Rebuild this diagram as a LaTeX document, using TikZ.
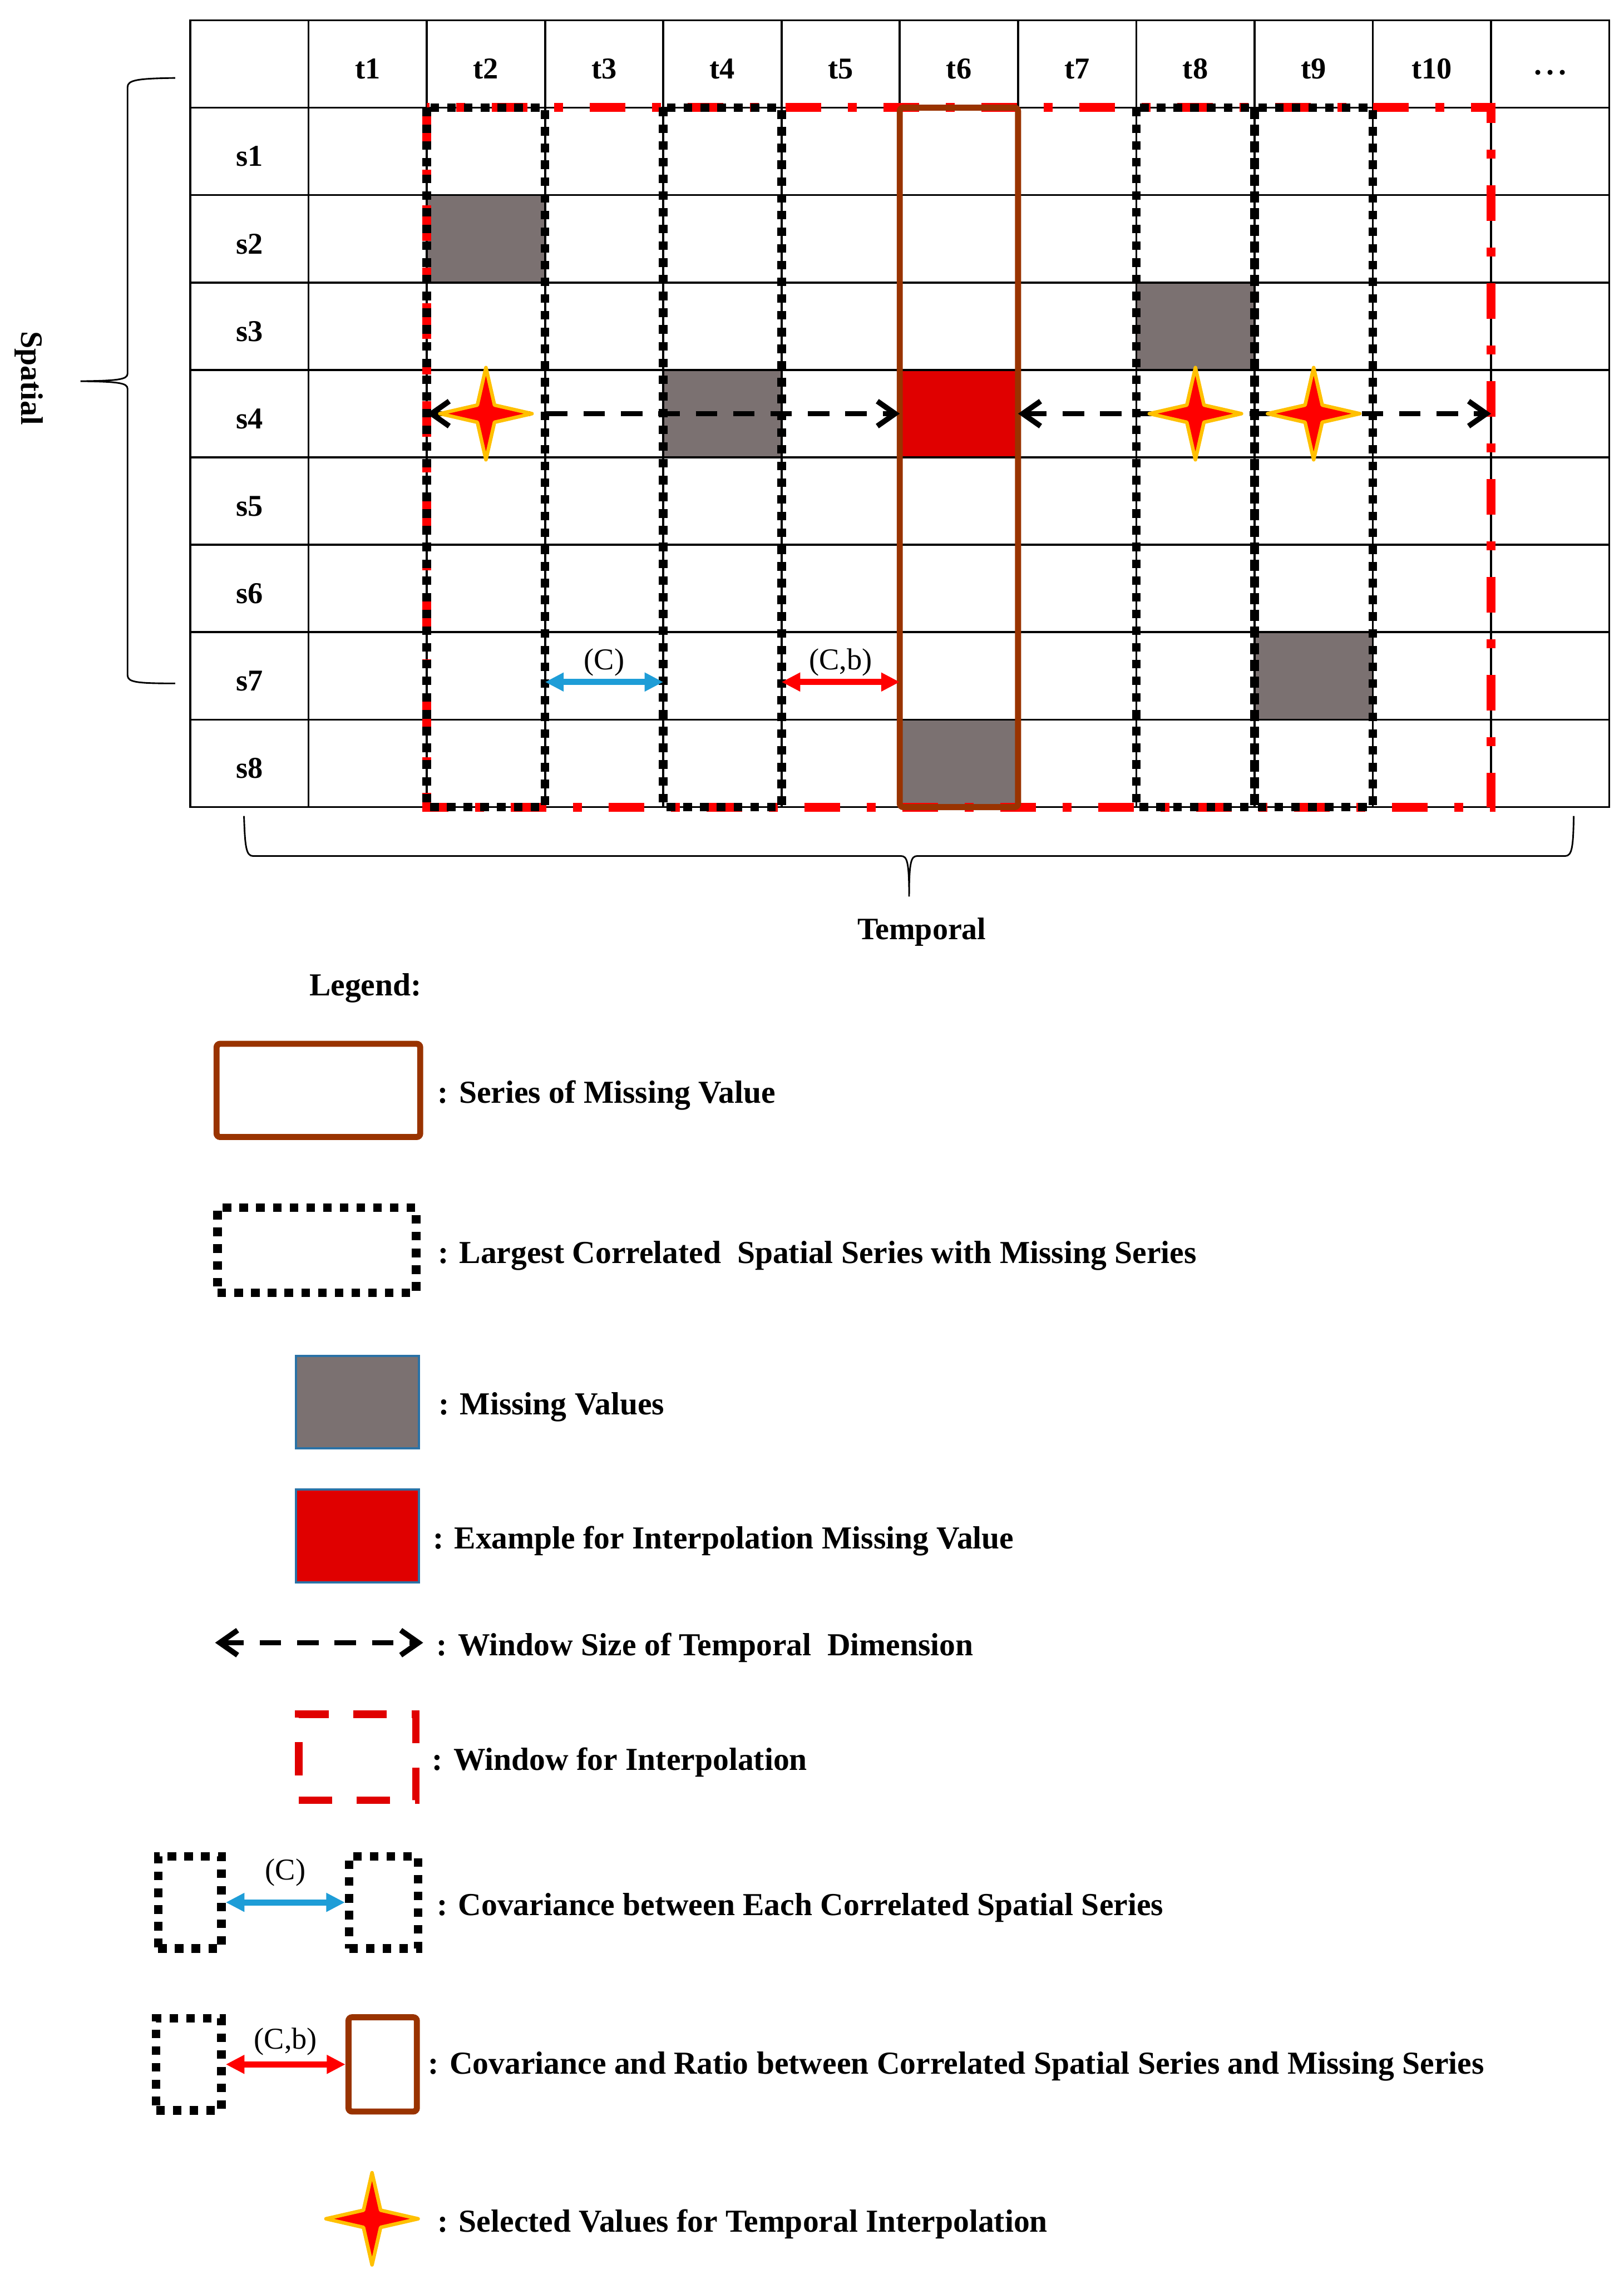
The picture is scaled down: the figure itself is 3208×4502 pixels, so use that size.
\documentclass[tikz,border=0pt]{standalone}
\usepackage{fontspec}
\setmainfont{Liberation Serif}
\usetikzlibrary{positioning,arrows.meta,shapes.geometric}

\definecolor{missgray}{RGB}{123,113,113}
\definecolor{exred}{RGB}{224,0,0}
\definecolor{serbrown}{RGB}{153,51,0}
\definecolor{stargold}{RGB}{255,192,0}
\definecolor{covblue}{RGB}{30,157,215}
\definecolor{legblue}{RGB}{42,114,166}

\begin{document}
\begin{tikzpicture}[
x=0.01cm, y=-0.01cm,
cell/.style={
    draw,
    line width=1.1pt,
    minimum width=2.336cm,
    minimum height=1.727cm,
    inner sep=0pt,
    outer sep=0pt
},
lab/.style={font=\bfseries\fontsize{17}{20}\selectfont, yshift=-0.1cm},
misscell/.style={fill=missgray, minimum width=65.3pt, minimum height=48pt, inner sep=0pt},
corrbox/.style={draw, line width=4.8pt, dash pattern=on 4.8pt off 4.6pt},
winbox/.style={draw=red, line width=5pt, dash pattern=on 20pt off 15pt on 5pt off 15pt},
winleg/.style={draw=exred, line width=4.3pt, dash pattern=on 18.7pt off 13.9pt},
serbox/.style={draw=serbrown, line width=3.4pt, rounded corners=2pt},
winarr/.style={black, line width=3pt, dash pattern=on 12pt off 9pt,
    {Straight Barb[length=10pt,width=14pt]}-{Straight Barb[length=10pt,width=14pt]}},
covarr/.style={covblue, line width=3.4pt,
    {Triangle[length=10.5pt,width=10pt]}-{Triangle[length=10.5pt,width=10pt]}},
ratarr/.style={red, line width=3.4pt,
    {Triangle[length=10.5pt,width=10pt]}-{Triangle[length=10.5pt,width=10pt]}},
selstar/.style={
    star,
    star points=4,
    star point ratio=3.8,
    minimum size=1.82cm,
    inner sep=0pt,
    fill=red,
    draw=stargold,
    line width=2pt,
    line join=round
},
clab/.style={font=\fontsize{17}{20}\selectfont, text=black, inner sep=0pt},
side/.style={font=\bfseries\fontsize{17.5}{20}\selectfont},
legtext/.style={font=\bfseries\fontsize{18}{22}\selectfont, inner sep=0pt, yshift=-0.1cm}
]

\useasboundingbox (0,0) rectangle (3208,4502);

\foreach \r in {0,...,8}
  \foreach \c in {0,...,11}
    \node[cell] (c\r-\c) at ({492.8+233.6*\c},{126.35+172.7*\r}) {};

\node[misscell] (m1) at (c2-2) {};
\node[misscell] (m2) at (c4-4) {};
\node[misscell] (m3) at (c3-8) {};
\node[misscell] (m4) at (c7-9) {};
\node[misscell] (m5) at (c8-6) {};
\node[misscell, fill=exred] (ex) at (c4-6) {};

\foreach \c in {1,...,10}
  \node[lab] (tl\c) at (c0-\c) {t\c};
\node[lab, yshift=-0.14cm] (tmore) at (c0-11) {·\kern1.2pt·\kern1.2pt·};
\foreach \r in {1,...,8}
  \node[lab] (sl\r) at (c\r-0) {s\r};

\draw[winbox] (c1-2.north west) rectangle (c8-10.south east);

\draw[corrbox] (c1-2.north west) rectangle (c8-2.south east);
\draw[corrbox] (c1-4.north west) rectangle (c8-4.south east);
\draw[corrbox] (c1-8.north west) rectangle (c8-8.south east);
\draw[corrbox] (c1-9.north west) rectangle (c8-9.south east);

\draw[serbox] (c1-6.north west) rectangle (c8-6.south east);

\draw[winarr] (c4-2.west) -- (c4-6.west);
\draw[winarr] (c4-6.east) -- (c4-10.east);

\node[selstar] (st1) at (c4-2) {};
\node[selstar] (st2) at (c4-8) {};
\node[selstar] (st3) at (c4-9) {};

\draw[covarr] ([yshift=-0.12cm]c7-3.west) -- node[clab, above=0.06cm] {(C)} ([yshift=-0.12cm]c7-3.east);
\draw[ratarr] ([yshift=-0.12cm]c7-5.west) -- node[clab, above=0.06cm] {(C,b)} ([yshift=-0.12cm]c7-5.east);

\draw[line width=0.9pt] (346,154) .. controls (272,155) and (252,158) .. (252,172)
  -- (252,738) .. controls (252,750) and (232,752) .. (159,753)
  .. controls (232,754) and (252,756) .. (252,768)
  -- (252,1334) .. controls (252,1348) and (272,1350) .. (346,1350);
\node[side, rotate=-90] (spat) at (57,747) {Spatial};

\draw[line width=0.9pt] (482,1612) .. controls (484,1672) and (486,1691) .. (500,1691)
  -- (1780,1691) .. controls (1792,1691) and (1796,1702) .. (1796,1771)
  .. controls (1796,1702) and (1800,1691) .. (1812,1691)
  -- (3092,1691) .. controls (3106,1691) and (3108,1672) .. (3109,1612);
\node[side] (temp) at (1821,1841) {Temporal};

\node[legtext, yshift=0.05cm] (leghead) at (722,1947) {Legend:};

\node[serbox, minimum width=4.02cm, minimum height=1.84cm] (lgser) at (629,2154) {};
\node[legtext, right=0.28cm of lgser] (txser) {: Series of Missing Value};

\node[corrbox, minimum width=3.92cm, minimum height=1.68cm] (lgcorr) at (626,2470) {};
\node[legtext, right=0.34cm of lgcorr] (txcorr) {: Largest Correlated \ Spatial Series with Missing Series};

\node[draw=legblue, line width=1.2pt, fill=missgray, minimum width=2.43cm, minimum height=1.82cm] (lgmiss) at (706,2770) {};
\node[legtext, right=0.36cm of lgmiss] (txmiss) {: Missing Values};

\node[draw=legblue, line width=1.2pt, fill=exred, minimum width=2.43cm, minimum height=1.83cm] (lgex) at (706,3034) {};
\node[legtext, right=0.25cm of lgex] (txex) {: Example for Interpolation Missing Value};

\coordinate (lgw1) at (425,3245);
\coordinate (lgw2) at (836,3245);
\draw[winarr] (lgw1) -- (lgw2);
\node[legtext, right=0.26cm of lgw2] (txw) {: Window Size of Temporal \ Dimension};

\node[winleg, minimum width=2.31cm, minimum height=1.70cm] (lgwin) at (706,3471) {};
\node[legtext, right=0.24cm of lgwin] (txwin) {: Window for Interpolation};

\node[corrbox, minimum width=1.25cm, minimum height=1.82cm] (lgca) at (375,3758) {};
\node[corrbox, minimum width=1.36cm, minimum height=1.82cm] (lgcb) at (758,3758) {};
\draw[covarr] (lgca) -- node[clab, above=0.26cm] {(C)} (lgcb);
\node[legtext, right=0.28cm of lgcb] (txcov) {: Covariance between Each Correlated Spatial Series};

\node[corrbox, minimum width=1.29cm, minimum height=1.82cm] (lgra) at (373,4078) {};
\node[serbox, minimum width=1.35cm, minimum height=1.86cm] (lgrb) at (756,4078) {};
\draw[ratarr] (lgra) -- node[clab, above=0.12cm] {(C,b)} (lgrb);
\node[legtext, right=0.16cm of lgrb, yshift=0.06cm] (txrat) {: Covariance and Ratio between Correlated Spatial Series and Missing Series};

\node[selstar] (lgstar) at (735,4383) {};
\node[legtext, right=0.22cm of lgstar] (txstar) {: Selected Values for Temporal Interpolation};

\end{tikzpicture}
\end{document}
